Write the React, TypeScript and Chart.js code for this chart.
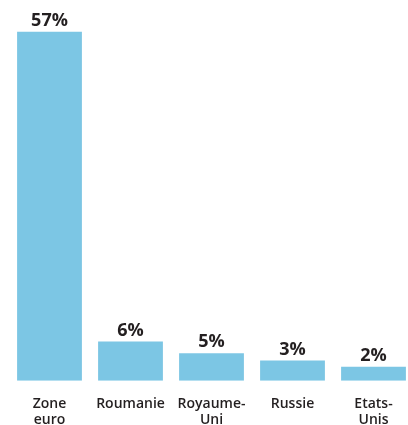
import React, { useEffect, useRef } from "react";
import { Chart, registerables } from "chart.js";

Chart.register(...registerables);

const categories: string[][] = [["Zone", "euro"], ["Roumanie"], ["Royaume-", "Uni"], ["Russie"], ["Etats-", "Unis"]];
const shares: number[] = [57, 6.4, 4.5, 3.3, 2.3];
const valueLabels: string[] = ["57%", "6%", "5%", "3%", "2%"];

const BAR_COLOR = "#7cc6e4";
const TEXT_COLOR = "#231f20";

const valueLabelPlugin = {
  id: "valueLabels",
  afterDatasetsDraw(chart: any) {
    const ctx = chart.ctx;
    const meta = chart.getDatasetMeta(0);
    ctx.save();
    ctx.font = "bold 18px 'Open Sans'";
    ctx.fillStyle = TEXT_COLOR;
    ctx.textAlign = "center";
    ctx.textBaseline = "alphabetic";
    meta.data.forEach((bar: any, i: number) => {
      ctx.fillText(valueLabels[i], bar.x, bar.y - 6);
    });
    ctx.restore();
  },
};

export default function App() {
  const ref = useRef<HTMLCanvasElement>(null);
  useEffect(() => {
    if (!ref.current) return;
    const chart = new Chart(ref.current, {
      type: "bar",
      data: {
        labels: categories,
        datasets: [
          {
            data: shares,
            backgroundColor: BAR_COLOR,
            borderWidth: 0,
            barPercentage: 0.8,
            categoryPercentage: 1,
          },
        ],
      },
      options: {
        responsive: false,
        animation: false,
        devicePixelRatio: 1,
        layout: { padding: { left: 9, right: 6, top: 0, bottom: 0 } },
        plugins: { legend: { display: false }, tooltip: { enabled: false } },
        scales: {
          x: {
            grid: { display: false, drawTicks: false },
            border: { display: false },
            ticks: {
              color: TEXT_COLOR,
              padding: 15,
              maxRotation: 0,
              autoSkip: false,
              font: { family: "'Open Sans'", size: 14, weight: "600", lineHeight: 1.15 },
            },
          },
          y: {
            display: false,
            min: 0,
            max: 62.2,
          },
        },
      },
      plugins: [valueLabelPlugin],
    });
    return () => chart.destroy();
  }, []);
  return (
    <div style={{ position: "fixed", left: 0, top: 0, width: 408, height: 425, overflow: "hidden", background: "#fff" }}>
      <canvas ref={ref} width={420} height={443} style={{ display: "block" }} />
    </div>
  );
}
